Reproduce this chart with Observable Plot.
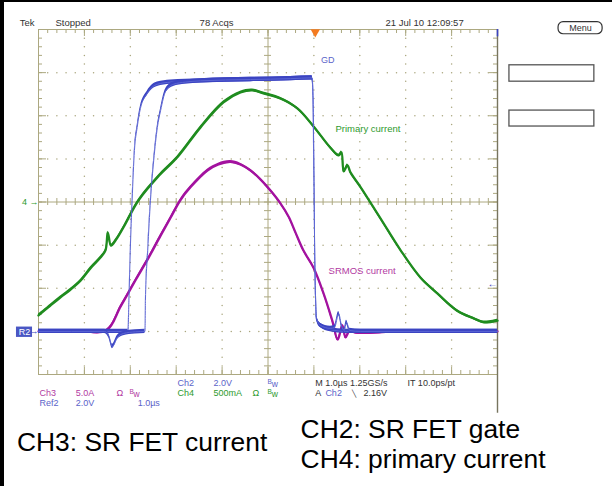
<!DOCTYPE html>
<html><head><meta charset="utf-8">
<script src="https://cdn.jsdelivr.net/npm/d3@7"></script>
<script src="https://cdn.jsdelivr.net/npm/@observablehq/plot@0.6"></script>
<style>
html,body{margin:0;padding:0;background:#fff;}
#wrap{position:relative;width:612px;height:486px;overflow:hidden;}
#border{position:absolute;left:0;top:0;width:612px;height:486px;box-sizing:border-box;border-top:2px solid #000;border-left:4px solid #000;pointer-events:none;}
</style></head><body>
<div id="wrap"><div id="chart"></div><div id="border"></div></div>
<script>
// time in divisions (1.0 µs/div), level in divisions from bottom of graticule
const ch4T = [0,0.26,0.48,0.7,0.92,1.13,1.35,1.46,1.51,1.58,1.68,1.85,2.18,2.59,3.02,3.53,4.03,4.4,4.66,4.9,5.27,5.64,5.98,6.36,6.54,6.6,6.65,6.73,6.8,7.02,7.45,7.89,8.32,8.69,9.12,9.48,9.7,10];
const ch4V = [1.37,1.6,1.79,1.97,2.18,2.46,2.71,2.88,3.29,2.99,3.11,3.41,4.04,4.57,5.03,5.73,6.31,6.54,6.59,6.52,6.4,6.17,5.77,5.26,5.08,5.15,4.71,4.85,4.68,4.34,3.62,2.88,2.25,1.88,1.48,1.3,1.21,1.25];

const ch3T = [0,0.92,1.48,1.79,2.11,2.4,2.66,2.88,3.09,3.31,3.68,3.92,4.18,4.4,4.62,4.84,5.05,5.27,5.45,5.6,5.77,5.99,6.21,6.4,6.52,6.62,6.69,6.78,6.91,7.89,10];
const ch3V = [1,1,1.02,1.58,2.18,2.71,3.22,3.64,4.04,4.34,4.73,4.87,4.93,4.87,4.73,4.52,4.27,3.97,3.66,3.29,2.88,2.48,1.88,1.25,0.81,1.14,0.86,1.02,0.97,1,1];

const ref2T = [0,1.95,1.97,2.0,2.04,2.09,2.15,2.22,2.37,2.59,2.88,3.53,4.62,5.49,5.96,5.98,6.0,6.02,6.06,6.14,6.36,6.69,10];
const ref2V = [1,1,1.72,2.88,4.04,5.19,5.73,6.17,6.52,6.73,6.78,6.81,6.84,6.86,6.88,6.47,4.73,2.64,1.3,1.14,1.04,1,1];

const ch2T = [0,1.44,1.53,1.61,1.72,1.85,2.11,2.32,2.33,2.38,2.44,2.51,2.59,2.66,2.77,2.94,3.2,3.53,4.62,5.49,5.96,5.98,6.0,6.02,6.06,6.14,6.36,6.45,6.54,6.6,6.66,6.71,6.78,7.02,10];
const ch2V = [1,1,0.9,0.65,0.86,0.95,0.99,1,1.72,2.88,4.04,4.96,5.73,6.12,6.57,6.73,6.78,6.81,6.84,6.86,6.88,6.47,4.73,2.64,1.3,1.14,1.07,1.09,1.41,1.14,1.02,1.21,1.02,1,1];

const headerTexts = ["Tek","Stopped","78 Acqs","21 Jul 10 12:09:57"];
const traceLabels = ["GD","Primary current","SRMOS current"];
const captions = ["CH3: SR FET current","CH2: SR FET gate","CH4: primary current"];

const rows = (T,V) => T.map((t,i)=>({t, v:V[i]}));
const green = rows(ch4T,ch4V), magenta = rows(ch3T,ch3V), ref2 = rows(ref2T,ref2V), ch2 = rows(ch2T,ch2V);

const W=612,H=486,mL=38,mR=115,mT=29,mB=112;
const pW=W-mL-mR, pH=H-mT-mB;
const tan="#aca880", tanDot="#aaa67e";
const cG="#1f8c1f", cM="#a3129f", cB="#3b44c2", cB2="#5c66d4";
const tG="#2e9a2e", tM="#b23aa2", tB="#5b63c9", tD="#333";
const FONT="Liberation Sans, Arial, sans-serif";

const minor = d3.range(1,50).map(k=>k/5);
const minorY = d3.range(1,40).map(k=>k/5);
const majX = d3.range(1,10), majY = d3.range(1,8);
const dotsV = []; majX.filter(d=>d!==5).forEach(d=>minorY.forEach(v=>dotsV.push({d,v})));
const dotsH = []; majY.filter(v=>v!==4).forEach(v=>minor.forEach(d=>{ if(Math.abs(d-Math.round(d))>1e-6) dotsH.push({d,v}); }));

function T(str,x,y,o={}){ return Plot.text([str],{x:()=>x,y:()=>y,text:d=>d,textAnchor:"start",lineAnchor:"middle",fontSize:9,fill:tD,...o}); }
function BW(x,y,fill){ return [T("B",x,y,{fill,fontSize:6.5,dy:-2}), T("w",x+0.09,y,{fill,fontSize:8.5,dy:0.5})]; }

function trace(data, color, lineColor, n, sw, curve){
  return [
    Plot.areaY(data,{x:"t",y1:d=>d.v-n,y2:d=>d.v+n,fill:color,curve}),
    Plot.line(data,{x:"t",y:"v",stroke:lineColor,strokeWidth:sw,curve})
  ];
}

const chart = Plot.plot({
  width:W,height:H,marginLeft:mL,marginRight:mR,marginTop:mT,marginBottom:mB,
  x:{domain:[0,10],axis:null}, y:{domain:[0,8],axis:null},
  style:{fontFamily:FONT,background:"white",overflow:"visible"},
  marks:[
    Plot.dot(dotsV,{x:"d",y:"v",r:0.75,fill:tanDot,stroke:null}),
    Plot.dot(dotsH,{x:"d",y:"v",r:0.75,fill:tanDot,stroke:null}),
    Plot.frame({stroke:tan}),
    Plot.tickX(minor,{x:d=>d,insetBottom:pH-4,stroke:tan}),
    Plot.tickX(majX,{x:d=>d,insetBottom:pH-7,stroke:tan}),
    Plot.tickX(minor,{x:d=>d,insetTop:pH-4,stroke:tan}),
    Plot.tickX(majX,{x:d=>d,insetTop:pH-7,stroke:tan}),
    Plot.tickY(minorY,{y:d=>d,insetRight:pW-4,stroke:tan}),
    Plot.tickY(majY,{y:d=>d,insetRight:pW-8,stroke:tan}),
    Plot.tickY(minorY,{y:d=>d,insetLeft:pW-4,stroke:tan}),
    Plot.tickY(majY,{y:d=>d,insetLeft:pW-8,stroke:tan}),
    Plot.ruleX([5],{stroke:tan}),
    Plot.ruleY([4],{stroke:tan}),
    Plot.tickX(minor,{x:d=>d,insetTop:pH/2-3.5,insetBottom:pH/2-3.5,stroke:tan}),
    Plot.tickY(minorY,{y:d=>d,insetLeft:pW/2-3.5,insetRight:pW/2-3.5,stroke:tan}),
    Plot.ruleX([10],{y1:8,y2:-0.9,stroke:"#77745f",strokeWidth:1.4}),
    Plot.ruleX([10],{y1:8,y2:7.83,stroke:cB,strokeWidth:1.6}),
    ...trace(green,cG,cG,0.03,2.3,"catmull-rom"),
    ...trace(magenta,cM,cM,0.03,2.3,"catmull-rom"),
    ...trace(ref2,cB,cB2,0.05,1,"monotone-x"),
    ...trace(ch2,cB,cB2,0.05,1,"monotone-x"),
    T(traceLabels[0],6.30,7.30,{fill:tB,textAnchor:"middle",fontSize:9}),
    T(traceLabels[1],6.47,5.70,{fill:tG,fontSize:9.5}),
    T(traceLabels[2],6.32,2.39,{fill:tM,fontSize:9.5}),
    T("4 \u2192",0,4,{fill:tG,textAnchor:"end",fontSize:9}),
    Plot.rect([0],{x1:()=>-0.48,x2:()=>-0.13,y1:()=>0.86,y2:()=>1.1,fill:"#4a57c4"}),
    T("R2",-0.305,0.98,{fill:"white",textAnchor:"middle",fontSize:9}),
    T("\u2192",0,1.0,{fill:cB,textAnchor:"end",fontSize:9}),
    T("\u2190",10,2.11,{fill:cB,textAnchor:"end",fontSize:10}),
    Plot.dot([0],{x:()=>6.03,y:()=>8,dy:2.5,symbol:"triangle",rotate:180,r:3.5,fill:"#f47b20",stroke:null}),
    T(headerTexts[0],-0.41,8.16,{fontSize:9.5}),
    T(headerTexts[1],0.37,8.16,{fontSize:9.5}),
    T(headerTexts[2],3.51,8.16,{fontSize:9.5}),
    T(headerTexts[3],7.56,8.16,{fontSize:9.5}),
    Plot.rect([0],{x1:()=>11.33,x2:()=>12.29,y1:()=>7.89,y2:()=>8.17,fill:"white",stroke:"#333",strokeWidth:1.2,rx:5}),
    T("Menu",11.81,8.03,{textAnchor:"middle",fontSize:9}),
    Plot.rect([0],{x1:()=>10.26,x2:()=>12.11,y1:()=>6.79,y2:()=>7.17,fill:"white",stroke:"#555",strokeWidth:1.3}),
    Plot.rect([0],{x1:()=>10.26,x2:()=>12.11,y1:()=>5.75,y2:()=>6.12,fill:"white",stroke:"#555",strokeWidth:1.3}),
    T("Ch2",3.03,-0.21,{fill:tB}), T("2.0V",3.81,-0.21,{fill:tB}), ...BW(4.99,-0.21,tB),
    T("M 1.0\u00b5s 1.25GS/s",6.03,-0.21), T("IT 10.0ps/pt",8.04,-0.21),
    T("Ch3",0.02,-0.44,{fill:tM}), T("5.0A",0.81,-0.44,{fill:tM}), T("\u03a9",1.70,-0.44,{fill:tM}), ...BW(1.98,-0.44,tM),
    T("Ch4",3.03,-0.44,{fill:tG}), T("500mA",3.81,-0.44,{fill:tG}), T("\u03a9",4.66,-0.44,{fill:tG}), ...BW(4.99,-0.44,tG),
    T("A",6.03,-0.44), T("Ch2",6.25,-0.44,{fill:tB}), T("\u2572",6.82,-0.44,{fontSize:7}), T("2.16V",7.08,-0.44),
    T("Ref2",0.02,-0.67,{fill:tB}), T("2.0V",0.81,-0.67,{fill:tB}), T("1.0\u00b5s",2.16,-0.67,{fill:tB}),
    T(captions[0],-0.47,-1.57,{fill:"#000",fontSize:26.4}),
    T(captions[1],5.71,-1.27,{fill:"#000",fontSize:26.4}),
    T(captions[2],5.71,-1.97,{fill:"#000",fontSize:26.4})
  ]
});
document.getElementById("chart").append(chart);
</script>
</body></html>
